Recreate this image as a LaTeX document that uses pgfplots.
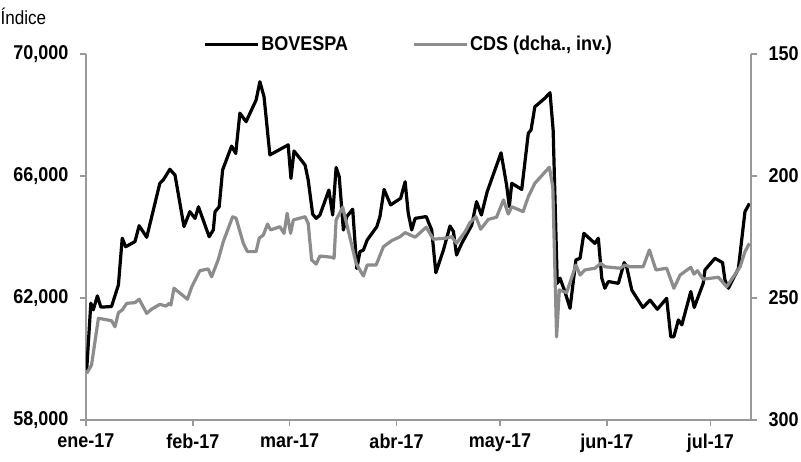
\documentclass[border=0pt]{standalone}
\usepackage{fontspec}
\setmainfont{Liberation Sans}[FakeStretch=0.9]
\usepackage{pgfplots}
\pgfplotsset{compat=1.18}
\definecolor{cdsgray}{HTML}{8C8C8C}
\definecolor{axgray}{HTML}{999999}
\begin{document}
\begin{tikzpicture}
\useasboundingbox (-86pt,-42pt) rectangle (715pt,420pt);
\pgfplotsset{
  common/.style={width=665pt,height=366pt,scale only axis,
    xmin=0,xmax=192.75,
    axis line style={axgray,line width=1.3pt,-},
    tick style={axgray,line width=1.2pt},
    major tick length=6pt, tick align=outside,
    ticklabel style={font=\fontsize{20}{22}\selectfont\bfseries},
    /pgf/number format/assume math mode=true,
    scaled y ticks=false}
}
\begin{axis}[common,
  axis x line*=bottom, axis y line*=left,
  xtick={0,31,59,90,120,151,181},
  xticklabels={ene-17,feb-17,mar-17,abr-17,may-17,jun-17,jul-17},
  xticklabel style={yshift=-4pt},
  ymin=58000,ymax=70000,ytick={58000,62000,66000,70000},
  yticklabel style={/pgf/number format/1000 sep={,},xshift=-8pt},
  legend columns=2,
  legend style={at={(0.485,1.027)},anchor=center,draw=none,fill=none,
    font=\fontsize{20}{22}\selectfont\bfseries,
    /tikz/every even column/.append style={column sep=62pt}},
  legend image code/.code={\draw[#1] (0pt,0pt) -- (53pt,0pt);}]
\addplot[black,line width=3.2pt,line join=round] coordinates {
(0.2,59640)(1.4,61830)(2.1,61610)(3.3,62070)(4.3,61700)(7.4,61720)(9.4,62430)
(10.5,63960)(11.5,63680)(14.2,63850)(15.4,64370)(17.6,63990)(21.4,65760)(22.4,65870)
(24.3,66220)(25.8,66030)(28.4,64340)(30.1,64830)(31.6,64610)(32.6,64990)(35.7,64010)
(36.9,64230)(37.4,64830)(38.6,64990)(39.6,66200)(42.2,66980)(43.4,66740)(44.6,68060)
(46.4,67780)(49.3,68490)(50.4,69090)(51.6,68600)(53.3,66690)(58.6,67020)(59.4,65920)
(60.3,66820)(63.5,66360)(64.4,65870)(65.7,64750)(66.7,64610)(67.8,64720)(70.4,65540)
(71.5,64720)(72.5,66280)(73.4,65980)(74.6,64230)(75.6,64670)(77.3,64910)(78.5,62970)
(79.4,63520)(80.4,63570)(81.5,63900)(84.3,64340)(85.2,64670)(86.4,65560)(88.3,65050)
(91.2,65270)(92.5,65810)(93.4,64780)(94.4,64230)(95.4,64610)(98.6,64670)(100.2,64230)
(101.4,62830)(103.6,63570)(105.5,64360)(106.5,64180)(107.4,63410)(108.9,63790)
(111.8,64390)(113.2,65160)(114.6,64720)(116.3,65490)(120.3,66760)(121.9,65710)
(122.7,64990)(123.4,65760)(126.3,65560)(128.2,67400)(129.0,67510)(130.1,68270)
(133.0,68550)(134.5,68730)(135.4,67510)(136.6,62480)(137.4,62650)(138.8,62210)
(140.3,61660)(142.0,63250)(143.2,63300)(144.3,64120)(147.5,63790)(148.5,63960)
(149.5,62650)(150.4,62320)(151.4,62540)(154.3,62480)(156.0,63160)(156.7,63030)
(158.2,62260)(161.4,61690)(163.5,61930)(165.6,61630)(168.3,61990)(169.5,60730)
(170.4,60730)(171.7,61280)(172.7,61120)(175.3,62210)(176.3,61690)(178.0,62210)
(178.9,62480)(179.4,62920)(182.3,63300)(184.5,63160)(185.2,62590)(186.2,62320)
(189.1,62970)(191.0,64830)(192.3,65100)};
\addlegendentry{BOVESPA}
\addlegendimage{cdsgray,line width=3.2pt}
\addlegendentry{CDS (dcha., inv.)}
\end{axis}
\begin{axis}[common,
  axis y line*=right, axis x line=none,
  yticklabel style={xshift=8pt},
  ymin=150,ymax=300,y dir=reverse,ytick={150,200,250,300}]
\addplot[cdsgray,line width=3.2pt,line join=round] coordinates {
(0.2,280.9)(1.6,277.5)(3.6,258.3)(7.4,259.3)(8.4,261.8)(9.4,256.0)(10.5,254.9)
(11.8,252.2)(14.2,251.9)(15.4,250.5)(17.6,256.3)(19.0,254.6)(21.4,252.6)(23.2,253.3)
(24.1,252.2)(24.6,252.9)(25.5,246.0)(29.4,250.5)(30.6,245.6)(33.0,238.8)(35.4,238.1)
(36.4,241.3)(38.3,234.4)(39.8,226.9)(42.5,216.7)(43.5,217.3)(45.6,227.6)(46.8,231.0)
(49.3,231.0)(50.2,225.5)(51.4,224.2)(52.6,219.7)(53.5,222.1)(56.2,220.8)(57.4,223.5)
(58.3,215.3)(59.3,223.5)(60.1,218.0)(63.5,216.7)(64.4,219.4)(65.4,234.4)(66.7,236.1)
(67.8,232.8)(71.2,233.3)(71.9,233.7)(72.5,218.0)(74.4,212.8)(78.3,235.8)(80.4,241.0)
(81.5,236.5)(84.1,236.5)(86.2,229.0)(88.6,226.5)(91.0,224.9)(92.5,223.2)(95.4,225.1)
(98.6,221.0)(100.7,225.9)(104.3,225.5)(106.0,224.9)(107.4,227.6)(109.9,222.8)
(111.3,219.1)(113.0,216.7)(114.4,221.8)(116.6,217.8)(119.0,216.9)(121.0,209.8)
(122.4,215.6)(123.4,212.6)(126.7,214.6)(128.2,208.5)(130.1,203.0)(134.3,196.4)
(135.3,204.4)(136.4,265.9)(137.2,246.7)(139.3,247.8)(142.0,236.5)(143.2,240.6)
(144.6,238.5)(147.5,237.8)(149.2,235.8)(150.4,237.2)(154.8,237.8)(156.2,236.5)
(157.7,237.2)(161.5,237.2)(163.3,230.3)(165.2,238.5)(168.3,237.8)(170.4,246.0)
(172.2,240.6)(175.3,237.4)(176.2,240.2)(177.2,238.8)(178.9,242.3)(183.3,241.5)
(185.7,245.4)(189.6,237.2)(191.0,231.0)(192.3,227.6)};
\end{axis}
\node[anchor=west,font=\fontsize{19}{21}\selectfont] at (-89pt,404pt) {Índice};
\end{tikzpicture}
\end{document}
